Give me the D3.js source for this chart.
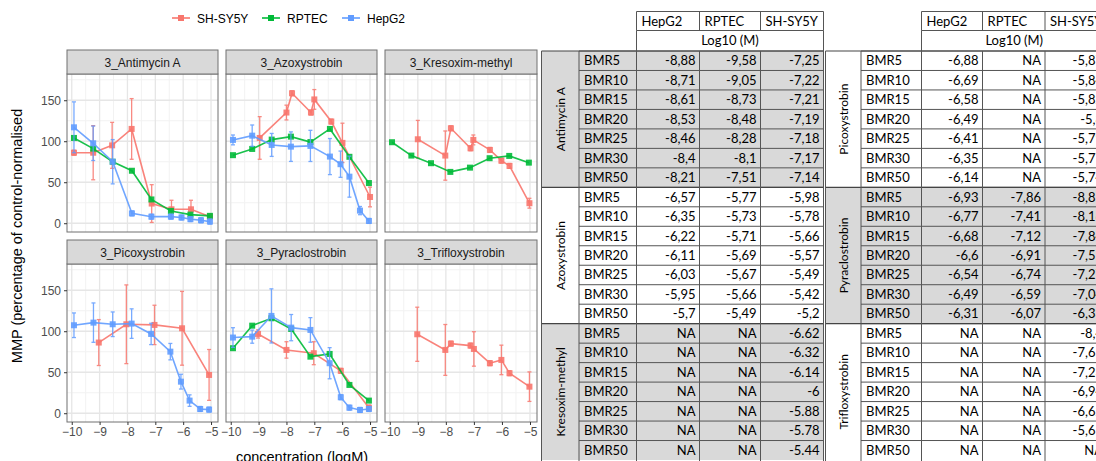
<!DOCTYPE html>
<html>
<head>
<meta charset="utf-8">
<script src="https://cdn.jsdelivr.net/npm/d3@7"></script>
<style>
  body { margin: 0; background: #fff; }
  svg { display: block; }
</style>
</head>
<body>
<svg id="chart" width="1096" height="461"></svg>
<script>
// ---- chart data ----
var compounds = ["3_Antimycin A", "3_Azoxystrobin", "3_Kresoxim-methyl",
                 "3_Picoxystrobin", "3_Pyraclostrobin", "3_Trifloxystrobin"];
var cellLines = ["SH-SY5Y", "RPTEC", "HepG2"];
var lineColors = ["#F8766D", "#00BA38", "#619CFF"];
var xTicks = [-10, -9, -8, -7, -6, -5];
var yTicks = [0, 50, 100, 150];

// [logM, mean, error]
var antimycin_sh = [[-9.92,86,3],[-9.23,86,33],[-8.55,95,28],[-7.85,115,37],[-7.13,24,23],[-6.42,17,11],[-5.72,17,11],[-5.04,8,3]];
var antimycin_rp = [[-9.92,104,0],[-9.23,91,0],[-8.53,75,0],[-7.84,64,0],[-7.14,29,0],[-6.44,15,0],[-5.74,10.5,0],[-5.04,9,0]];
var antimycin_hep = [[-9.92,117,31],[-9.23,97.5,21],[-8.53,75,27],[-7.84,12,3],[-7.14,8,3],[-6.44,8,3],[-6.06,7,3],[-5.74,5,3],[-5.36,3.6,3],[-5.04,2,3]];

var azoxy_sh = [[-8.96,104,26],[-8.0,135,9],[-7.8,158.5,3],[-7.12,135,3],[-7.0,151,12],[-6.39,124,3],[-5.99,98,24],[-5.0,32,12]];
var azoxy_rp = [[-9.92,83,0],[-9.23,90.6,0],[-8.53,102,0],[-7.84,105.6,0],[-7.14,99,0],[-6.44,115,0],[-5.74,81,0],[-5.04,49,0]];
var azoxy_hep = [[-9.92,101.6,6],[-9.23,106.8,13],[-8.53,95.5,14],[-7.84,93.4,18],[-7.14,94.3,19],[-6.44,81.3,22],[-6.06,72,16],[-5.74,56.8,25],[-5.36,15.4,5],[-5.04,2.8,3]];

var kresoxim_sh = [[-9.0,102.4,23],[-8.02,82.5,30],[-7.82,115.8,3],[-7.12,91.4,3],[-7.02,101.6,6],[-6.43,89.4,3],[-6.02,76.3,3],[-5.73,69.9,3],[-5.02,24.4,6]];
var kresoxim_rp = [[-9.92,98.8,0],[-9.23,82.5,0],[-8.53,73.2,0],[-7.84,62.6,0],[-7.14,67.8,0],[-6.44,79.3,0],[-5.74,82.1,0],[-5.04,73.9,0]];
var kresoxim_hep = [];

var picoxy_sh = [[-9.03,86.2,28],[-8.04,108.5,48],[-7.03,107.7,24],[-6.04,103.6,45],[-5.07,46.7,31]];
var picoxy_rp = [];
var picoxy_hep = [[-9.92,107.3,15],[-9.22,110.5,24],[-8.53,108.5,15],[-7.85,109.3,18],[-7.15,96.7,13],[-6.46,75.1,10],[-6.08,38.5,9],[-5.77,15.4,7],[-5.39,5.2,3],[-5.07,4.4,3]];

var pyraclo_sh = [[-9.02,96.7,5],[-8.0,77.2,10],[-7.02,73.2,14],[-6.05,51.7,3],[-5.04,6.8,3]];
var pyraclo_rp = [[-9.92,79.3,0],[-9.23,106.8,0],[-8.54,115.8,0],[-7.83,102.8,0],[-7.14,69,0],[-6.45,72.3,0],[-5.74,34.5,0],[-5.04,15.4,0]];
var pyraclo_hep = [[-9.92,92.3,12],[-9.23,93.4,8],[-8.54,118.7,33],[-7.83,104.4,16],[-7.14,101.6,15],[-6.45,61,19],[-6.05,19.5,3],[-5.74,6.8,3],[-5.36,4,3],[-5.04,5.2,3]];

var triflox_sh = [[-9.02,96.3,33],[-8.02,77.2,31],[-7.82,84.9,3],[-7.12,82.5,3],[-7.0,78.4,21],[-6.43,61,3],[-6.02,65,18],[-5.73,48.8,3],[-5.02,32.4,18]];
var triflox_rp = [];
var triflox_hep = [];

var panelSeries = [
    [antimycin_sh, antimycin_rp, antimycin_hep],
    [azoxy_sh, azoxy_rp, azoxy_hep],
    [kresoxim_sh, kresoxim_rp, kresoxim_hep],
    [picoxy_sh, picoxy_rp, picoxy_hep],
    [pyraclo_sh, pyraclo_rp, pyraclo_hep],
    [triflox_sh, triflox_rp, triflox_hep]
];

// ---- table data ----
var tableCols = ["HepG2", "RPTEC", "SH-SY5Y"];
var bmrLevels = ["BMR5", "BMR10", "BMR15", "BMR20", "BMR25", "BMR30", "BMR50"];
var leftBlocks = ["Antimycin A", "Azoxystrobin", "Kresoxim-methyl"];
var rightBlocks = ["Picoxystrobin", "Pyraclostrobin", "Trifloxystrobin"];

var antimycinBMR = [["-8,88","-9,58","-7,25"],["-8,71","-9,05","-7,22"],["-8,61","-8,73","-7,21"],["-8,53","-8,48","-7,19"],["-8,46","-8,28","-7,18"],["-8,4","-8,1","-7,17"],["-8,21","-7,51","-7,14"]];
var azoxyBMR = [["-6,57","-5,77","-5,98"],["-6,35","-5,73","-5,78"],["-6,22","-5,71","-5,66"],["-6,11","-5,69","-5,57"],["-6,03","-5,67","-5,49"],["-5,95","-5,66","-5,42"],["-5,7","-5,49","-5,2"]];
var kresoximBMR = [["NA","NA","-6.62"],["NA","NA","-6.32"],["NA","NA","-6.14"],["NA","NA","-6"],["NA","NA","-5.88"],["NA","NA","-5.78"],["NA","NA","-5.44"]];
var picoxyBMR = [["-6,88","NA","-5,87"],["-6,69","NA","-5,84"],["-6,58","NA","-5,82"],["-6,49","NA","-5,8"],["-6,41","NA","-5,79"],["-6,35","NA","-5,77"],["-6,14","NA","-5,74"]];
var pyracloBMR = [["-6,93","-7,86","-8,85"],["-6,77","-7,41","-8,16"],["-6,68","-7,12","-7,84"],["-6,6","-6,91","-7,55"],["-6,54","-6,74","-7,27"],["-6,49","-6,59","-7,04"],["-6,31","-6,07","-6,33"]];
var trifloxBMR = [["NA","NA","-8,4"],["NA","NA","-7,65"],["NA","NA","-7,23"],["NA","NA","-6,94"],["NA","NA","-6,62"],["NA","NA","-5,61"],["NA","NA","NA"]];

var svg = d3.select("#chart");
var sans = "Liberation Sans, Arial, sans-serif";

// ---- facet chart ----
var colRanges = [[67, 218], [226, 377], [385, 537]];
var rowBoxes = [{strip: [50, 74], panel: [74, 232]}, {strip: [240, 264], panel: [264, 422]}];

compounds.forEach(function(name, i) {
    var c = i % 3, r = Math.floor(i / 3);
    var cr = colRanges[c], rb = rowBoxes[r];
    var x = d3.scaleLinear().domain([-10.17, -4.75]).range(cr);
    var y = d3.scaleLinear().domain([-10.7, 182]).range([rb.panel[1], rb.panel[0]]);
    var g = svg.append("g");

    // grid
    var minorX = [-9.5, -8.5, -7.5, -6.5, -5.5];
    var minorY = [25, 75, 125, 175];
    g.selectAll(".mx").data(minorX).enter().append("line")
        .attr("x1", x).attr("x2", x).attr("y1", rb.panel[0]).attr("y2", rb.panel[1])
        .attr("stroke", "#f2f2f2").attr("stroke-width", 1);
    g.selectAll(".my").data(minorY).enter().append("line")
        .attr("x1", cr[0]).attr("x2", cr[1]).attr("y1", y).attr("y2", y)
        .attr("stroke", "#f2f2f2").attr("stroke-width", 1);
    g.selectAll(".gx").data(xTicks).enter().append("line")
        .attr("x1", x).attr("x2", x).attr("y1", rb.panel[0]).attr("y2", rb.panel[1])
        .attr("stroke", "#e6e6e6").attr("stroke-width", 1.3);
    g.selectAll(".gy").data(yTicks).enter().append("line")
        .attr("x1", cr[0]).attr("x2", cr[1]).attr("y1", y).attr("y2", y)
        .attr("stroke", "#e6e6e6").attr("stroke-width", 1.3);

    // series
    panelSeries[i].forEach(function(data, s) {
        if (!data.length) return;
        var col = lineColors[s];
        var line = d3.line().x(function(d) { return x(d[0]); }).y(function(d) { return y(d[1]); });
        g.append("path").datum(data).attr("d", line)
            .attr("fill", "none").attr("stroke", col).attr("stroke-width", 1.6).attr("opacity", 0.9);
        var eb = g.selectAll(null).data(data.filter(function(d) { return d[2] > 0; })).enter().append("g")
            .attr("stroke", col).attr("stroke-width", 1.3).attr("opacity", 0.85);
        eb.append("line").attr("x1", function(d) { return x(d[0]); }).attr("x2", function(d) { return x(d[0]); })
            .attr("y1", function(d) { return y(d[1] - d[2]); }).attr("y2", function(d) { return y(d[1] + d[2]); });
        eb.append("line").attr("x1", function(d) { return x(d[0]) - 2; }).attr("x2", function(d) { return x(d[0]) + 2; })
            .attr("y1", function(d) { return y(d[1] - d[2]); }).attr("y2", function(d) { return y(d[1] - d[2]); });
        eb.append("line").attr("x1", function(d) { return x(d[0]) - 2; }).attr("x2", function(d) { return x(d[0]) + 2; })
            .attr("y1", function(d) { return y(d[1] + d[2]); }).attr("y2", function(d) { return y(d[1] + d[2]); });
        g.selectAll(null).data(data).enter().append("rect")
            .attr("x", function(d) { return x(d[0]) - 3; }).attr("y", function(d) { return y(d[1]) - 3; })
            .attr("width", 6).attr("height", 6).attr("fill", col).attr("opacity", 0.9);
    });

    // border + strip
    g.append("rect").attr("x", cr[0]).attr("y", rb.panel[0]).attr("width", cr[1] - cr[0]).attr("height", rb.panel[1] - rb.panel[0])
        .attr("fill", "none").attr("stroke", "#707070").attr("stroke-width", 1);
    g.append("rect").attr("x", cr[0]).attr("y", rb.strip[0]).attr("width", cr[1] - cr[0]).attr("height", rb.strip[1] - rb.strip[0])
        .attr("fill", "#d9d9d9").attr("stroke", "#707070").attr("stroke-width", 1);
    g.append("text").attr("x", (cr[0] + cr[1]) / 2).attr("y", (rb.strip[0] + rb.strip[1]) / 2 + 4.5)
        .attr("text-anchor", "middle").attr("font-family", sans)
        .attr("font-size", 12).attr("fill", "#1a1a1a").text(name);

    // axes
    if (c === 0) {
        var ya = g.append("g").attr("transform", "translate(" + cr[0] + ",0)")
            .call(d3.axisLeft(y).tickValues(yTicks).tickSize(3).tickPadding(3));
        ya.select(".domain").remove();
        ya.selectAll("line").attr("stroke", "#333");
        ya.selectAll("text").attr("font-family", sans).attr("font-size", 12).attr("fill", "#4d4d4d");
    }
    if (r === 1) {
        var xa = g.append("g").attr("transform", "translate(0," + rb.panel[1] + ")")
            .call(d3.axisBottom(x).tickValues(xTicks).tickFormat(d3.format("d")).tickSize(3).tickPadding(2));
        xa.select(".domain").remove();
        xa.selectAll("line").attr("stroke", "#333");
        xa.selectAll("text").attr("font-family", sans).attr("font-size", 12).attr("fill", "#4d4d4d");
    }
});

// axis titles
svg.append("text").attr("transform", "translate(22,236) rotate(-90)")
    .attr("text-anchor", "middle").attr("font-family", sans)
    .attr("font-size", 14.5).attr("fill", "#000").text("MMP (percentage of control-normalised");
svg.append("text").attr("x", 302).attr("y", 462)
    .attr("text-anchor", "middle").attr("font-family", sans)
    .attr("font-size", 14.5).attr("fill", "#000").text("concentration (logM)");

// legend
var legendX = [172, 262, 342];
cellLines.forEach(function(name, s) {
    var lx = legendX[s];
    svg.append("line").attr("x1", lx).attr("x2", lx + 18).attr("y1", 18).attr("y2", 18)
        .attr("stroke", lineColors[s]).attr("stroke-width", 1.6);
    svg.append("rect").attr("x", lx + 6).attr("y", 15).attr("width", 6).attr("height", 6).attr("fill", lineColors[s]);
    svg.append("text").attr("x", lx + 25).attr("y", 22.5).attr("font-family", sans)
        .attr("font-size", 12).attr("fill", "#000").text(name);
});

// ---- tables ----
var tfont = "Lato, Open Sans, sans-serif";
var rowScale = d3.scaleBand().domain(d3.range(21)).range([51, 460]);

function drawTable(x0, colEdges, blocks, blockData, firstGray) {
    var t = svg.append("g");
    var labelX = x0, bmrX = colEdges[0], valEdges = colEdges.slice(1);
    var rightEdge = valEdges[valEdges.length - 1];

    blocks.forEach(function(bname, b) {
        var top = rowScale(b * 7), bottom = rowScale(b * 7 + 6) + rowScale.bandwidth();
        var gray = (b % 2 === 0) === firstGray;
        t.append("rect").attr("x", labelX).attr("y", top).attr("width", rightEdge - labelX).attr("height", bottom - top)
            .attr("fill", gray ? "#d9d9d9" : "#fff");
        t.append("text").attr("transform", "translate(" + ((labelX + bmrX) / 2 + 4.5) + "," + ((top + bottom) / 2) + ") rotate(-90)")
            .attr("text-anchor", "middle").attr("font-family", tfont).attr("font-size", 12).attr("fill", "#000").text(bname);
        bmrLevels.forEach(function(lev, k) {
            var ry = rowScale(b * 7 + k), cy = ry + rowScale.bandwidth() / 2;
            t.append("line").attr("x1", bmrX).attr("x2", rightEdge).attr("y1", ry).attr("y2", ry).attr("stroke", "#555");
            t.append("text").attr("x", bmrX + 5).attr("y", cy + 4.5).attr("font-family", tfont)
                .attr("font-size", 13).attr("fill", "#000").text(lev);
            blockData[b][k].forEach(function(v, j) {
                t.append("text").attr("x", valEdges[j + 1] - 4).attr("y", cy + 4.5).attr("text-anchor", "end")
                    .attr("font-family", tfont).attr("font-size", 13).attr("fill", "#000").text(v);
            });
        });
        t.append("line").attr("x1", labelX).attr("x2", rightEdge).attr("y1", top).attr("y2", top).attr("stroke", "#444").attr("stroke-width", 1.2);
    });

    // verticals in body
    [labelX, bmrX].concat(valEdges).forEach(function(ex) {
        t.append("line").attr("x1", ex).attr("x2", ex).attr("y1", 51).attr("y2", 461).attr("stroke", "#555");
    });
    // header
    t.append("line").attr("x1", valEdges[0]).attr("x2", rightEdge).attr("y1", 11.5).attr("y2", 11.5).attr("stroke", "#555");
    t.append("line").attr("x1", valEdges[0]).attr("x2", rightEdge).attr("y1", 30.5).attr("y2", 30.5).attr("stroke", "#555");
    valEdges.forEach(function(ex) {
        t.append("line").attr("x1", ex).attr("x2", ex).attr("y1", 11.5).attr("y2", 30.5).attr("stroke", "#555");
    });
    t.append("line").attr("x1", valEdges[0]).attr("x2", valEdges[0]).attr("y1", 30.5).attr("y2", 51).attr("stroke", "#555");
    t.append("line").attr("x1", rightEdge).attr("x2", rightEdge).attr("y1", 30.5).attr("y2", 51).attr("stroke", "#555");
    tableCols.forEach(function(cname, j) {
        t.append("text").attr("x", valEdges[j] + 5).attr("y", 25.5).attr("font-family", tfont)
            .attr("font-size", 13).attr("fill", "#000").text(cname);
    });
    t.append("text").attr("x", (valEdges[0] + rightEdge) / 2).attr("y", 45).attr("text-anchor", "middle")
        .attr("font-family", tfont).attr("font-size", 13).attr("fill", "#000").text("Log10 (M)");
}

drawTable(541.5, [579, 636.5, 699.5, 760.5, 823.5], leftBlocks, [antimycinBMR, azoxyBMR, kresoximBMR], true);
drawTable(825.5, [861, 921.5, 982.5, 1045, 1107], rightBlocks, [picoxyBMR, pyracloBMR, trifloxBMR], false);
</script>
</body>
</html>
